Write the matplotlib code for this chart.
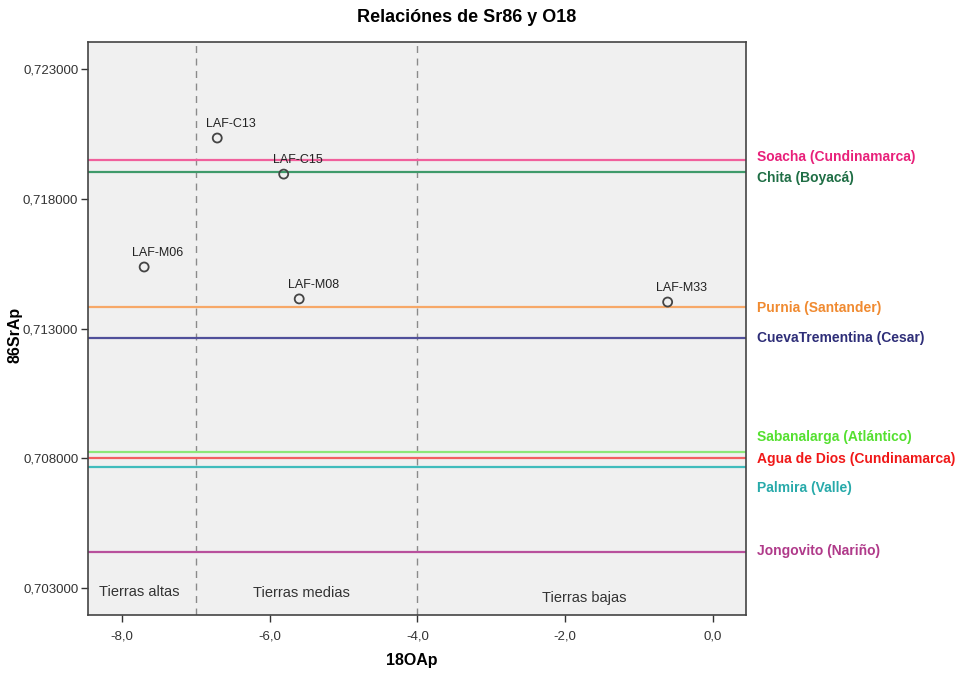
import matplotlib
matplotlib.use("Agg")
import matplotlib.pyplot as plt
from matplotlib.ticker import FuncFormatter, FixedLocator

plt.rcParams['font.family'] = ['Liberation Sans', 'DejaVu Sans']

# Data
sample_names = ["LAF-C13", "LAF-C15", "LAF-M06", "LAF-M08", "LAF-M33"]
o18 = [-6.71, -5.81, -7.70, -5.60, -0.61]
sr86 = [0.72034, 0.71895, 0.71537, 0.71414, 0.71402]

ref_names = ["Soacha (Cundinamarca)", "Chita (Boyacá)", "Purnia (Santander)",
             "CuevaTrementina (Cesar)", "Sabanalarga (Atlántico)",
             "Agua de Dios (Cundinamarca)", "Palmira (Valle)", "Jongovito (Nariño)"]
ref_values = [0.71949, 0.71903, 0.71383, 0.71263, 0.70824, 0.70801, 0.70766, 0.70439]
ref_line_colors = ["#f0609c", "#3f9a6a", "#f7a868", "#50509a", "#8ce878",
                   "#f26060", "#40bcbc", "#b8509c"]
ref_text_colors = ["#e8207a", "#1f6e45", "#f08a30", "#2e2e78", "#55e030",
                   "#f01818", "#28aaaa", "#b03a8a"]
# vertical offsets (points) of right-hand labels from their lines
ref_label_dy = [2, -4, -1, 0, 11, -1, -15, 1]

zone_bounds = [-7.0, -4.0]
zone_names = ["Tierras altas", "Tierras medias", "Tierras bajas"]
zone_x = [-7.76, -5.57, -1.74]
zone_y = [0.70285, 0.70280, 0.70262]

x_ticks = [-8.0, -6.0, -4.0, -2.0, 0.0]
y_ticks = [0.703, 0.708, 0.713, 0.718, 0.723]

fig = plt.figure(figsize=(9.59, 6.74), dpi=100)
ax = fig.add_axes([0.0918, 0.0875, 0.686, 0.8502])
ax.set_facecolor("#f0f0f0")
ax.set_xlim(-8.46, 0.45)
ax.set_ylim(0.70196, 0.72404)

for v in zone_bounds:
    ax.axvline(v, color="#8a8a8a", linestyle=(0, (5, 4)), linewidth=1.0, zorder=1)

for val, lc, tc, name, dy in zip(ref_values, ref_line_colors, ref_text_colors, ref_names, ref_label_dy):
    ax.axhline(val, color=lc, linewidth=1.6, zorder=2)
    ax.annotate(name, xy=(1.0, val), xycoords=("axes fraction", "data"),
                xytext=(8, dy), textcoords="offset points", ha="left", va="center",
                color=tc, fontsize=10, fontweight="bold", annotation_clip=False)

ax.scatter(o18, sr86, s=42, facecolors="none", edgecolors="#444444", linewidths=1.3, zorder=4)
for n, x, y in zip(sample_names, o18, sr86):
    ax.annotate(n, xy=(x, y), xytext=(10, 10), textcoords="offset points",
                ha="center", va="center", fontsize=9, color="#222222", zorder=5)

for n, x, y in zip(zone_names, zone_x, zone_y):
    ax.text(x, y, n, ha="center", va="center", fontsize=10.5, color="#333333")

ax.xaxis.set_major_locator(FixedLocator(x_ticks))
ax.yaxis.set_major_locator(FixedLocator(y_ticks))
ax.xaxis.set_major_formatter(FuncFormatter(lambda v, p: f"{v:.1f}".replace(".", ",")))
ax.yaxis.set_major_formatter(FuncFormatter(lambda v, p: f"{v:.6f}".replace(".", ",")))
ax.tick_params(axis="both", direction="out", length=5, width=1.0, color="#333333",
               labelsize=9.5, labelcolor="#333333")
ax.tick_params(axis="x", pad=6)
ax.tick_params(axis="y", pad=2)
for s in ax.spines.values():
    s.set_color("#444444")
    s.set_linewidth(1.2)

fig.text(412 / 959, 1 - 661 / 674, "18OAp", ha="center", va="center",
         fontsize=11.5, fontweight="bold")
fig.text(15 / 959, 1 - 335 / 674, "86SrAp", ha="center", va="center",
         rotation=90, fontsize=11.5, fontweight="bold")
fig.text(467 / 959, 1 - 18 / 674, "Relaciónes de Sr86 y O18", ha="center", va="center",
         fontsize=13, fontweight="bold")

fig.savefig("out.png", dpi=100)
